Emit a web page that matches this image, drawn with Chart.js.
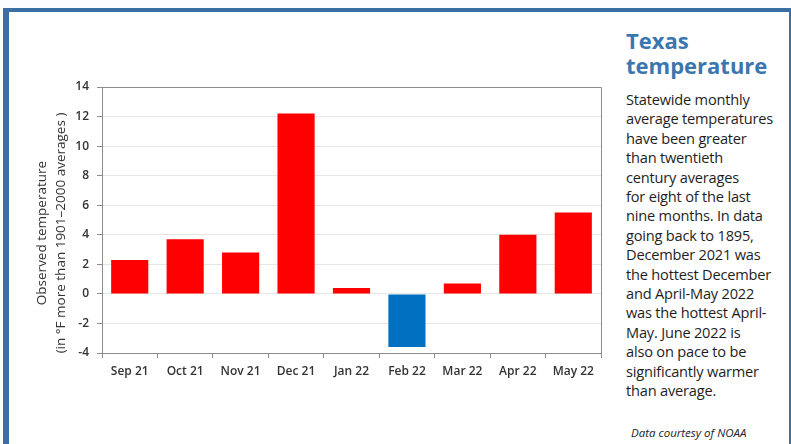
<!DOCTYPE html>
<html>
<head>
<meta charset="utf-8">
<script src="https://cdn.jsdelivr.net/npm/chart.js@4/dist/chart.umd.min.js"></script>
<style>
  html, body { margin: 0; padding: 0; background: #fff; }
  #page { position: relative; width: 791px; height: 444px; overflow: hidden; background: #fbfdfe; }
  #frame { position: absolute; left: 3px; top: 8px; width: 780px; height: 440px;
           border-top: 4px solid #3a6fa3; border-left: 6px solid #3a6fa3; border-right: 2px solid #3a6fa3; background: #fff; }
  #chartBox { position: absolute; left: 0; top: 0; width: 615px; height: 400px; }
  #side { position: absolute; left: 626px; top: 28px; width: 166px; font-family: "Open Sans", sans-serif; }
  #side h1 { margin: 0; font-size: 22px; line-height: 25px; font-weight: 700; color: #3b77ae; }
  #side .body { margin-top: 12px; font-size: 14.6px; line-height: 19.4px; color: #1e1e1e; letter-spacing: -0.2px; }
  #credit { position: absolute; left: 631px; top: 425px; font-family: "Open Sans", sans-serif; font-style: italic;
            font-size: 11.5px; color: #222; letter-spacing: 0px; }
</style>
</head>
<body>
<div id="page">
  <div id="frame"></div>
  <div id="chartBox"><canvas id="myChart" width="615" height="400"></canvas></div>
  <div id="side">
    <h1>Texas<br>temperature</h1>
    <div class="body">
      Statewide monthly<br>average temperatures<br>have been greater<br>than twentieth<br>century averages<br>for eight of the last<br>nine months. In data<br>going back to 1895,<br>December 2021 was<br>the hottest December<br>and April-May 2022<br>was the hottest April-<br>May. June 2022 is<br>also on pace to be<br>significantly warmer<br>than average.
    </div>
  </div>
  <div id="credit">Data courtesy of NOAA</div>
</div>
<script>
//data
var months = ["Sep 21", "Oct 21", "Nov 21", "Dec 21", "Jan 22", "Feb 22", "Mar 22", "Apr 22", "May 22"]
var anomaly = [2.3, 3.7, 2.8, 12.2, 0.4, -3.6, 0.7, 4.0, 5.5]
var yTitle = ["Observed temperature", "(in \u00B0F more than 1901\u20132000 averages )"]

//red when warmer, blue when colder
var barColors = anomaly.map(function (v) { return v >= 0 ? "#ff0000" : "#0070c0" })

//box round the plot + rotated axis title
var extras = {
    id: "extras",
    afterDraw: function (chart) {
        var c = chart.ctx, a = chart.chartArea
        c.save()
        c.strokeStyle = "#8c8c8c"
        c.lineWidth = 1
        c.beginPath()
        c.moveTo(a.left, a.top + 0.5); c.lineTo(a.right + 0.5, a.top + 0.5); c.lineTo(a.right + 0.5, a.bottom)
        c.stroke()
        c.fillStyle = "#333"
        c.font = "13.5px 'Open Sans', sans-serif"
        c.textAlign = "center"
        c.textBaseline = "middle"
        c.translate(42, 233)
        c.rotate(-Math.PI / 2)
        c.fillText(yTitle[0], 0, 0)
        c.fillText(yTitle[1], 0, 19)
        c.restore()
    }
}

var ctx = document.getElementById("myChart")
var myChart = new Chart(ctx, {
    type: "bar",
    data: {
        labels: months,
        datasets: [{
            data: anomaly,
            backgroundColor: barColors,
            barPercentage: 0.67,
            categoryPercentage: 1
        }]
    },
    options: {
        responsive: false,
        animation: false,
        layout: { padding: { left: 0, top: 87, right: 14, bottom: 0 } },
        plugins: { legend: { display: false }, tooltip: { enabled: false } },
        scales: {
            x: {
                grid: { drawOnChartArea: false, drawTicks: true, tickLength: 5, color: "#8c8c8c" },
                border: { color: "#8c8c8c" },
                ticks: { color: "#333", padding: 6, font: { family: "'Open Sans', sans-serif", size: 12, weight: "600" }, maxRotation: 0 },
                afterFit: function (s) { s.height = 47 }
            },
            y: {
                min: -4,
                max: 14,
                ticks: { stepSize: 2, color: "#333", padding: 8, font: { family: "'Open Sans', sans-serif", size: 12, weight: "600" } },
                grid: { color: "#e6e6e6", tickColor: "#8c8c8c", tickLength: 5 },
                border: { color: "#8c8c8c" },
                afterFit: function (s) { s.width = 102 }
            }
        }
    },
    plugins: [extras]
})
</script>
</body>
</html>
